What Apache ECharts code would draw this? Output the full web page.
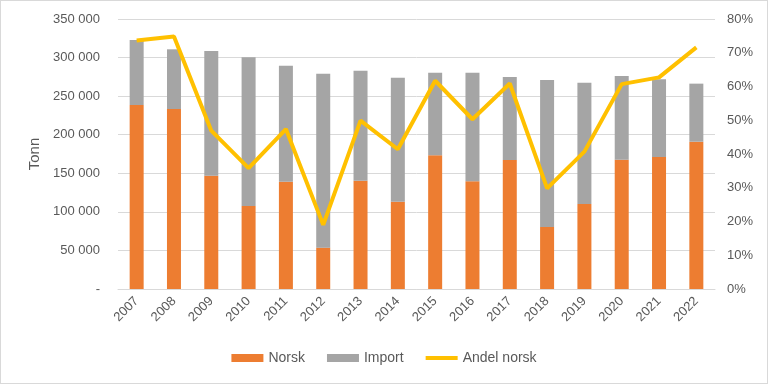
<!DOCTYPE html>
<html>
<head>
<meta charset="utf-8">
<script src="https://cdn.jsdelivr.net/npm/echarts@6/dist/echarts.min.js"></script>
<style>
html,body{margin:0;padding:0;background:#fff;}
#c{width:766px;height:382px;border:1px solid #d9d9d9;}
</style>
</head>
<body>
<div id="c"></div>
<script>
const years = ['2007','2008','2009','2010','2011','2012','2013','2014','2015','2016','2017','2018','2019','2020','2021','2022'];
const norsk = [238500, 233300, 146900, 107600, 139100, 53600, 140400, 113200, 173300, 139600, 167200, 80400, 110200, 167600, 171100, 190900];
const importVals = [84300, 77400, 161600, 192700, 150400, 225500, 142600, 160800, 107100, 140800, 107600, 190500, 157300, 108500, 100700, 75300];
const andelNorsk = [0.736, 0.748, 0.469, 0.358, 0.474, 0.190, 0.499, 0.414, 0.617, 0.503, 0.609, 0.298, 0.407, 0.607, 0.627, 0.716];

const fontFamily = 'Liberation Sans, Arial, sans-serif';
const txt = '#595959';
function fmtTon(v){
  if (v === 0) return '-';
  return String(v).replace(/\B(?=(\d{3})+(?!\d))/g, ' ');
}
const lineIcon = 'path://M0,0H0.01V0.01H0Z M0,2H32V6H0Z M0,7.99H0.01V8H0Z';
const chart = echarts.init(document.getElementById('c'));
chart.setOption({
  animation: false,
  textStyle: {fontFamily: fontFamily},
  grid: {left: 117, right: 52, top: 18, bottom: 94},
  legend: {
    bottom: 13,
    left: 'center',
    itemWidth: 32,
    itemHeight: 8,
    itemGap: 22,
    textStyle: {color: txt, fontSize: 14, fontFamily: fontFamily},
    data: [
      {name: 'Norsk', icon: 'rect'},
      {name: 'Import', icon: 'rect'},
      {name: 'Andel norsk', icon: lineIcon}
    ]
  },
  xAxis: {
    type: 'category',
    data: years,
    axisLine: {lineStyle: {color: '#d9d9d9'}},
    axisTick: {show: false},
    axisLabel: {rotate: 45, color: txt, fontSize: 13, fontFamily: fontFamily, margin: 10}
  },
  yAxis: [
    {
      type: 'value', min: 0, max: 350000, interval: 50000,
      name: 'Tonn', nameLocation: 'middle', nameGap: 76,
      nameTextStyle: {color: txt, fontSize: 15, fontFamily: fontFamily},
      axisLine: {show: false}, axisTick: {show: false},
      splitLine: {lineStyle: {color: '#d9d9d9'}},
      axisLabel: {color: txt, fontSize: 13, fontFamily: fontFamily, formatter: fmtTon, margin: 18}
    },
    {
      type: 'value', min: 0, max: 0.8, interval: 0.1,
      axisLine: {show: false}, axisTick: {show: false},
      splitLine: {show: false},
      axisLabel: {color: txt, fontSize: 13, fontFamily: fontFamily, margin: 12,
        formatter: v => Math.round(v * 100) + '%'}
    }
  ],
  series: [
    {name: 'Norsk', type: 'bar', stack: 't', data: norsk, barWidth: 14,
      itemStyle: {color: '#ED7D31'}},
    {name: 'Import', type: 'bar', stack: 't', data: importVals, barWidth: 14,
      itemStyle: {color: '#A5A5A5'}},
    {name: 'Andel norsk', type: 'line', yAxisIndex: 1, data: andelNorsk,
      symbol: 'none', lineStyle: {color: '#FFC000', width: 4},
      itemStyle: {color: '#FFC000'}}
  ]
});
</script>
</body>
</html>
